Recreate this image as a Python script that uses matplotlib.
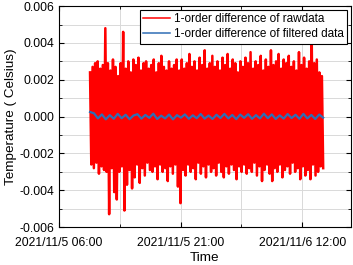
import numpy as np
import pandas as pd
import matplotlib
matplotlib.use("Agg")
import matplotlib.pyplot as plt

plt.rcParams['font.family'] = ['Liberation Sans', 'DejaVu Sans']
plt.rcParams['axes.unicode_minus'] = False

# time span of the recording
t_start = "2021-11-05 09:50"
t_end = "2021-11-06 14:35"

# local maxima / minima of the raw difference (units of 1e-3 Celsius), read left to right
raw_peaks = [2.4, 2.7, 2.9, 3.0, 2.6, 2.8, 4.8, 2.9, 2.5, 3.1, 2.7, 2.2,
             2.9, 4.6, 2.6, 3.0, 2.4, 3.1, 2.8, 3.2, 2.5, 2.9, 3.0, 2.6,
             2.8, 3.1, 2.4, 2.9, 3.3, 2.7, 2.5, 3.0, 2.6, 2.8, 3.1, 2.5,
             3.1, 2.6, 2.9, 3.4, 2.7, 3.0, 2.5, 3.2, 2.8, 3.6, 2.6, 2.9,
             3.3, 2.7, 3.0, 2.5, 3.2, 2.8, 3.4, 2.6, 3.1, 2.9, 2.4, 3.0,
             2.7, 3.2, 2.9, 3.5, 2.6, 3.0, 2.8, 3.3, 2.5, 3.1, 2.7, 3.6,
             2.8, 3.0, 3.4, 2.6, 3.1, 2.9, 3.3, 2.7, 3.0, 2.5, 3.5, 2.8,
             3.2, 2.6, 3.0, 4.2, 2.9, 3.1, 2.4, 2.2]
raw_troughs = [-2.6, -2.8, -2.5, -3.1, -2.7, -2.9, -3.0, -5.3, -2.8, -4.1, -4.5, -3.0,
               -2.7, -5.1, -3.7, -2.9, -3.9, -3.3, -2.6, -3.6, -2.8, -3.2, -2.5, -2.9,
               -3.0, -2.7, -3.4, -2.6, -3.0, -2.8, -3.5, -2.7, -3.1, -2.6, -3.8, -4.7,
               -2.9, -3.2, -2.6, -3.0, -2.8, -3.4, -2.5, -3.1, -2.7, -3.3, -2.6, -3.0,
               -2.8, -3.2, -2.5, -3.0, -3.3, -2.7, -3.1, -2.6, -2.9, -3.4, -2.7, -3.0,
               -2.6, -3.1, -2.8, -3.0, -2.5, -3.2, -2.7, -3.5, -2.9, -2.6, -3.1, -3.5,
               -2.8, -3.0, -2.6, -3.3, -2.9, -2.7, -3.1, -2.5, -3.0, -2.8, -3.4, -2.7,
               -3.2, -2.9, -3.4, -2.6, -3.2, -3.0, -2.7, -2.8]

# filtered difference (units of 1e-4 Celsius)
filt_vals = [2.5, 1.8, -1.0, 1.2, -1.5, 0.8, -1.2, 1.5, -0.9, 1.0, -1.4, 0.6,
             1.3, -1.1, 0.9, -0.7, 1.6, -1.3, 0.5, -1.0, 1.1, -1.5, 0.8, -0.6,
             1.2, -1.2, 0.7, -0.9, 1.4, -1.1, 0.6, -1.3, 1.0, -0.8, 1.5, -1.0,
             0.9, -1.4, 1.1, -0.7, 1.3, -1.2, 0.8, -1.0, 1.6, -0.9, 1.2, -1.3,
             0.7, -1.1, 1.4, -0.8, 1.0, -1.2, 1.5, -1.0, 0.9, -1.3, 1.1, -0.6]

raw = np.ravel(np.column_stack([raw_peaks, raw_troughs])) * 1e-3
t_raw = pd.date_range(t_start, t_end, periods=len(raw))
filt = np.array(filt_vals) * 1e-4
t_filt = pd.date_range(t_start, t_end, periods=len(filt))

fig = plt.figure(figsize=(3.53, 2.65), dpi=100)
ax = fig.add_axes([0.167, 0.143, 0.827, 0.834])

ax.plot(t_raw, raw, color='#ff0000', lw=1.8, label='1-order difference of rawdata')
ax.plot(t_filt, filt, color='#2f6eb5', lw=1.6, label='1-order difference of filtered data')

ax.set_xlim(pd.Timestamp("2021-11-05 06:00"), pd.Timestamp("2021-11-06 18:00"))
ax.set_ylim(-0.006, 0.006)
ax.set_yticks(np.arange(-0.006, 0.0061, 0.002))
ax.set_yticks(np.arange(-0.005, 0.006, 0.002), minor=True)
ax.yaxis.set_major_formatter(plt.FuncFormatter(lambda v, p: f"{v:.3f}"))

ticks = pd.to_datetime(["2021-11-05 06:00", "2021-11-05 21:00", "2021-11-06 12:00"])
ax.set_xticks(ticks)
ax.set_xticklabels(["2021/11/5 06:00", "2021/11/5 21:00", "2021/11/6 12:00"])
ax.set_xticks(pd.to_datetime(["2021-11-05 13:30", "2021-11-06 04:30"]), minor=True)

ax.grid(True, which='both', color='#d9d9d9', lw=0.7)
ax.set_axisbelow(True)
ax.tick_params(which='both', direction='in', top=True, right=True, labelsize=8.7)
ax.tick_params(axis='x', pad=7)
ax.tick_params(which='minor', length=2)
ax.tick_params(which='major', length=3.5)

ax.set_xlabel("Time", fontsize=9.7, labelpad=2)
ax.set_ylabel("Temperature ( Celsius)", fontsize=9.7, labelpad=2)

leg = ax.legend(loc='upper right', fontsize=8.5, fancybox=False, edgecolor='black',
                framealpha=1, borderaxespad=0.3, handlelength=2.3, borderpad=0.3,
                labelspacing=0.25, handletextpad=0.3)
leg.get_frame().set_linewidth(0.8)
for line in leg.get_lines():
    line.set_linewidth(1.1)

fig.savefig("out.png", dpi=100)
